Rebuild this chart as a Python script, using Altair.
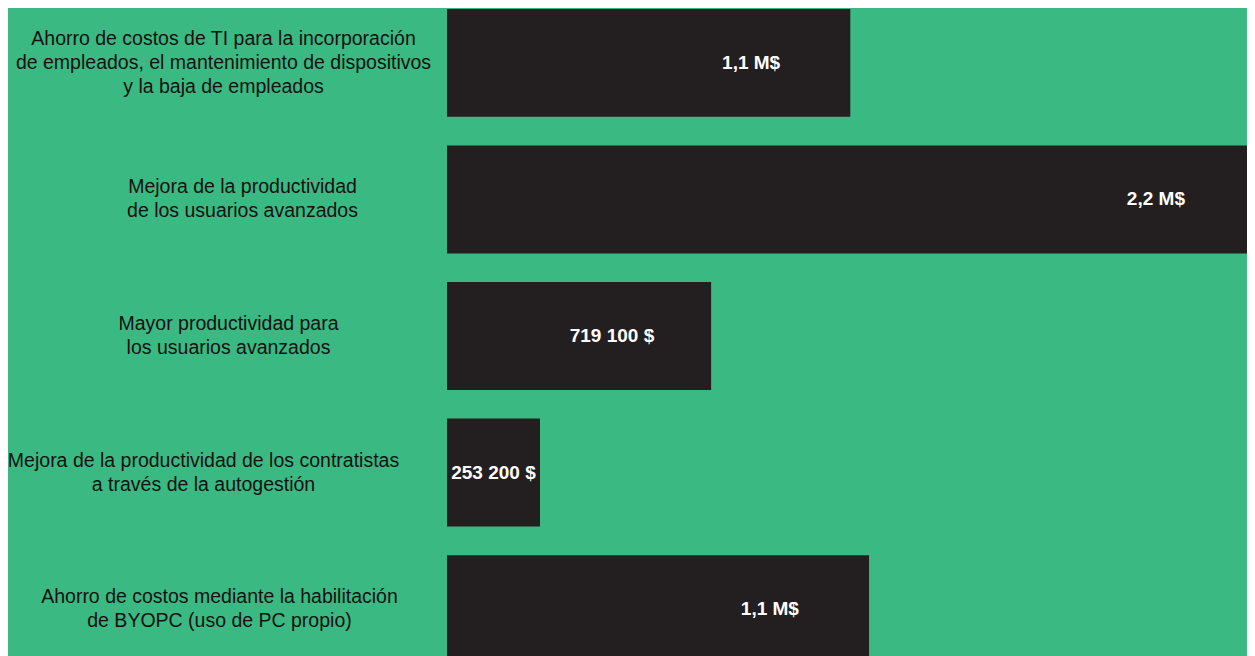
import altair as alt
import pandas as pd

categories = [
    "Ahorro de costos de TI para la incorporación|de empleados, el mantenimiento de dispositivos|y la baja de empleados",
    "Mejora de la productividad|de los usuarios avanzados",
    "Mayor productividad para|los usuarios avanzados",
    "Mejora de la productividad de los contratistas|a través de la autogestión",
    "Ahorro de costos mediante la habilitación|de BYOPC (uso de PC propio)",
]
values_musd = [1.098, 2.2, 0.7191, 0.2532, 1.149]
value_labels = ["1,1 M$", "2,2 M$", "719 100 $", "253 200 $", "1,1 M$"]

df = pd.DataFrame({"cat": categories, "value": values_musd, "label": value_labels})

GREEN = "#3bb983"
BAR = "#231f20"
FONT = "Liberation Sans"
LINE_H = 24

# gap between each category label's centre and the bars
label_gaps = [224, 205, 219, 244, 228]


def per_label(vals):
    return {
        "condition": [
            {"test": f"datum.value == '{c}'", "value": v}
            for c, v in zip(categories[1:], vals[1:])
        ],
        "value": vals[0],
    }


# shift multi-line labels up so the block is centred on the bar
line_offsets = [-(c.count("|")) * LINE_H / 2 for c in categories]

y_enc = alt.Y(
    "cat:N",
    sort=categories,
    title=None,
    scale=alt.Scale(range=[1, 655], paddingInner=0.21, paddingOuter=0),
    axis=alt.Axis(
        domain=False,
        ticks=False,
        tickSize=0,
        labelPadding=per_label(label_gaps),
        labelOffset=per_label(line_offsets),
        labelAlign="center",
        labelBaseline="middle",
        labelLimit=0,
        labelFont=FONT,
        labelFontSize=19.5,
        labelColor="#111111",
        labelLineHeight=LINE_H,
        labelExpr="split(datum.label, '|')",
    ),
)

x_scale = alt.Scale(domain=[0, 2.178], nice=False, zero=True)

bars = alt.Chart(df).mark_bar(color=BAR).encode(
    x=alt.X("value:Q", scale=x_scale, axis=None),
    y=y_enc,
)

texts = (
    alt.Chart(df)
    .transform_calculate(lx="max(datum.value / 2, datum.value - 0.27)")
    .mark_text(
        color="white",
        font=FONT,
        fontSize=19,
        fontWeight="bold",
        align="center",
        baseline="middle",
    )
    .encode(
        x=alt.X("lx:Q", scale=x_scale, axis=None),
        y=alt.Y("cat:N", sort=categories),
        text="label:N",
    )
)

chart = (
    alt.layer(bars, texts)
    .properties(
        width=800,
        height=648,
        autosize=alt.AutoSizeParams(type="none"),
        padding={"left": 439, "top": 0, "right": 0, "bottom": 0},
        background=GREEN,
    )
    .configure_view(stroke=None)
)

chart.save("out.html", embed_options={"renderer": "svg", "actions": False})
